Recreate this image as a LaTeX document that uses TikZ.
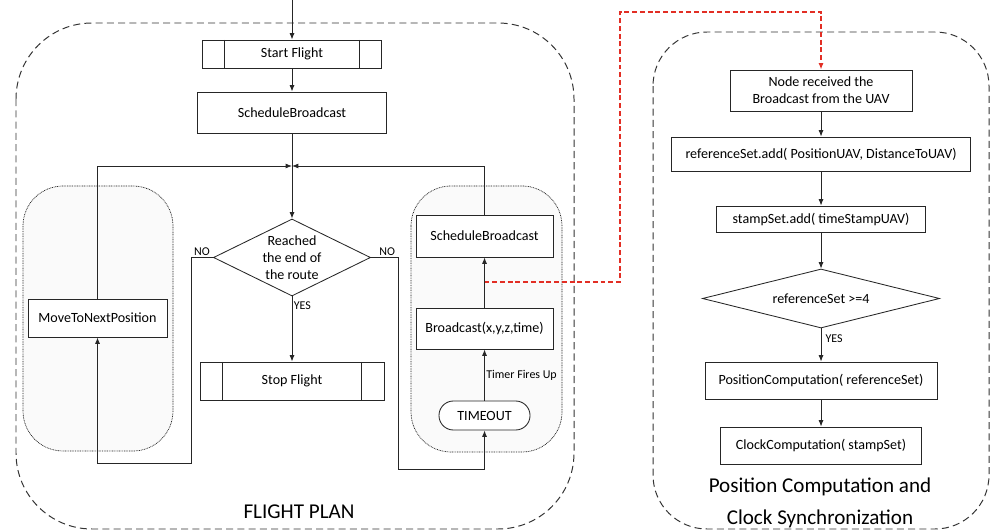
\documentclass[tikz,border=0pt]{standalone}
\usepackage{fontspec}
\setmainfont{Carlito}
\usetikzlibrary{shapes.geometric,arrows.meta}
\definecolor{linkred}{RGB}{226,46,36}

\begin{document}
\begin{tikzpicture}[
    x=0.025cm, y=-0.025cm,
    >={Latex[length=4.5pt,width=3.5pt]},
    proc/.style={rectangle, draw=black!85, line width=0.6pt, fill=white, align=center,
                 inner sep=2pt, font=\fontsize{10}{12}\selectfont},
    predef/.style={proc, path picture={
        \draw[black!85, line width=0.6pt] ([xshift=0.56cm]path picture bounding box.north west) -- ([xshift=0.56cm]path picture bounding box.south west);
        \draw[black!85, line width=0.6pt] ([xshift=-0.56cm]path picture bounding box.north east) -- ([xshift=-0.56cm]path picture bounding box.south east);}},
    decision/.style={diamond, draw=black!85, line width=0.6pt, fill=white, aspect=2,
                     inner sep=0pt, align=center, font=\fontsize{10}{12}\selectfont},
    term/.style={proc, rounded corners=0.36cm},
    flow/.style={->, draw=black!85, line width=0.6pt},
    lbl/.style={font=\fontsize{8.5}{10}\selectfont, inner sep=1pt},
    frame/.style={draw=black!80, line width=0.7pt, dash pattern=on 5pt off 3pt},
    group/.style={draw=black!90, line width=0.5pt, dash pattern=on 0.6pt off 0.6pt, fill=black!2, rounded corners=1cm},
    title/.style={font=\fontsize{15}{23}\selectfont, align=center}
]
\useasboundingbox (0,0) rectangle (990,530);

% Frames
\draw[frame, rounded corners=1.9cm] (16,23) rectangle (574,529);
\draw[frame, rounded corners=1.35cm] (653,32) rectangle (989,529);
\draw[group] (23,186) rectangle (173,451);
\draw[group] (411,186) rectangle (562,452);

\node[title] (fptitle) at (299,512) {FLIGHT PLAN};
\node[title] (pctitle) at (820,503) {Position Computation and\\Clock Synchronization};

% FLIGHT PLAN (left)
\coordinate (entry) at (292,0);
\node[predef, minimum width=4.475cm, minimum height=0.7cm] (start) at (292,54) {Start Flight};
\node[proc, minimum width=4.725cm, minimum height=1.025cm] (sb1) at (292,112.5) {ScheduleBroadcast};
\coordinate (join) at (292,166);
\node[decision, minimum width=3.925cm, minimum height=1.925cm] (reached) at (292,257.5) {Reached\\the end of\\the route};
\node[predef, minimum width=4.6cm, minimum height=0.95cm] (stop) at (292,381) {Stop Flight};

\node[proc, minimum width=3.475cm, minimum height=0.95cm] (move) at (97.5,318) {MoveToNextPosition};
\coordinate (noL) at (191,463);

\node[proc, minimum width=3.425cm, minimum height=1.05cm] (sb2) at (484.5,236) {ScheduleBroadcast};
\node[proc, minimum width=3.425cm, minimum height=1.025cm] (bcast) at (484.5,328.5) {Broadcast(x,y,z,time)};
\node[term, minimum width=2.275cm, minimum height=0.725cm] (timeout) at (484.5,415.5) {TIMEOUT};
\coordinate (noR) at (398,469);
\coordinate (tap) at (484.5,282);

\draw[flow] (entry) -- (start);
\draw[flow] (start) -- (sb1);
\draw[flow] (sb1) -- (reached);
\draw[flow] (move.north) |- (join);
\draw[flow] (sb2.north) |- (join);
\draw[flow] (reached) -- node[lbl, pos=0.14, right] {YES} (stop);
\draw[flow] (reached.west) -| node[lbl, pos=0.25, above] {NO} (noL) -| (move.south);
\draw[flow] (reached.east) -| node[lbl, pos=0.3, above] {NO} (noR) -| (timeout.south);
\draw[flow] (timeout) -- node[lbl, midway, right] {Timer Fires Up} (bcast);
\draw[flow] (bcast) -- (sb2);

% POSITION COMPUTATION (right)
\node[proc, minimum width=4.55cm, minimum height=1.025cm] (recv) at (821,90.5) {Node received the\\Broadcast from the UAV};
\node[proc, minimum width=7.475cm, minimum height=0.85cm] (refadd) at (821,154) {referenceSet.add( PositionUAV, DistanceToUAV)};
\node[proc, minimum width=5.225cm, minimum height=0.65cm] (stampadd) at (821,219) {stampSet.add( timeStampUAV)};
\node[decision, minimum width=5.925cm, minimum height=1.475cm] (enough) at (821,298.5) {referenceSet >=4};
\node[proc, minimum width=5.8cm, minimum height=0.925cm] (poscomp) at (821,380.5) {PositionComputation( referenceSet)};
\node[proc, minimum width=5.025cm, minimum height=0.925cm] (clockcomp) at (821,445.5) {ClockComputation( stampSet)};

\draw[flow] (recv) -- (refadd);
\draw[flow] (refadd) -- (stampadd);
\draw[flow] (stampadd) -- (enough);
\draw[flow] (enough) -- node[lbl, pos=0.3, right, xshift=2pt] {YES} (poscomp);
\draw[flow] (poscomp) -- (clockcomp);

% Broadcast link
\coordinate (redtop) at (620,12);
\draw[->, linkred, line width=1.3pt, dash pattern=on 3.5pt off 2pt] (tap) -| (redtop) -| (recv.north);

\end{tikzpicture}
\end{document}
